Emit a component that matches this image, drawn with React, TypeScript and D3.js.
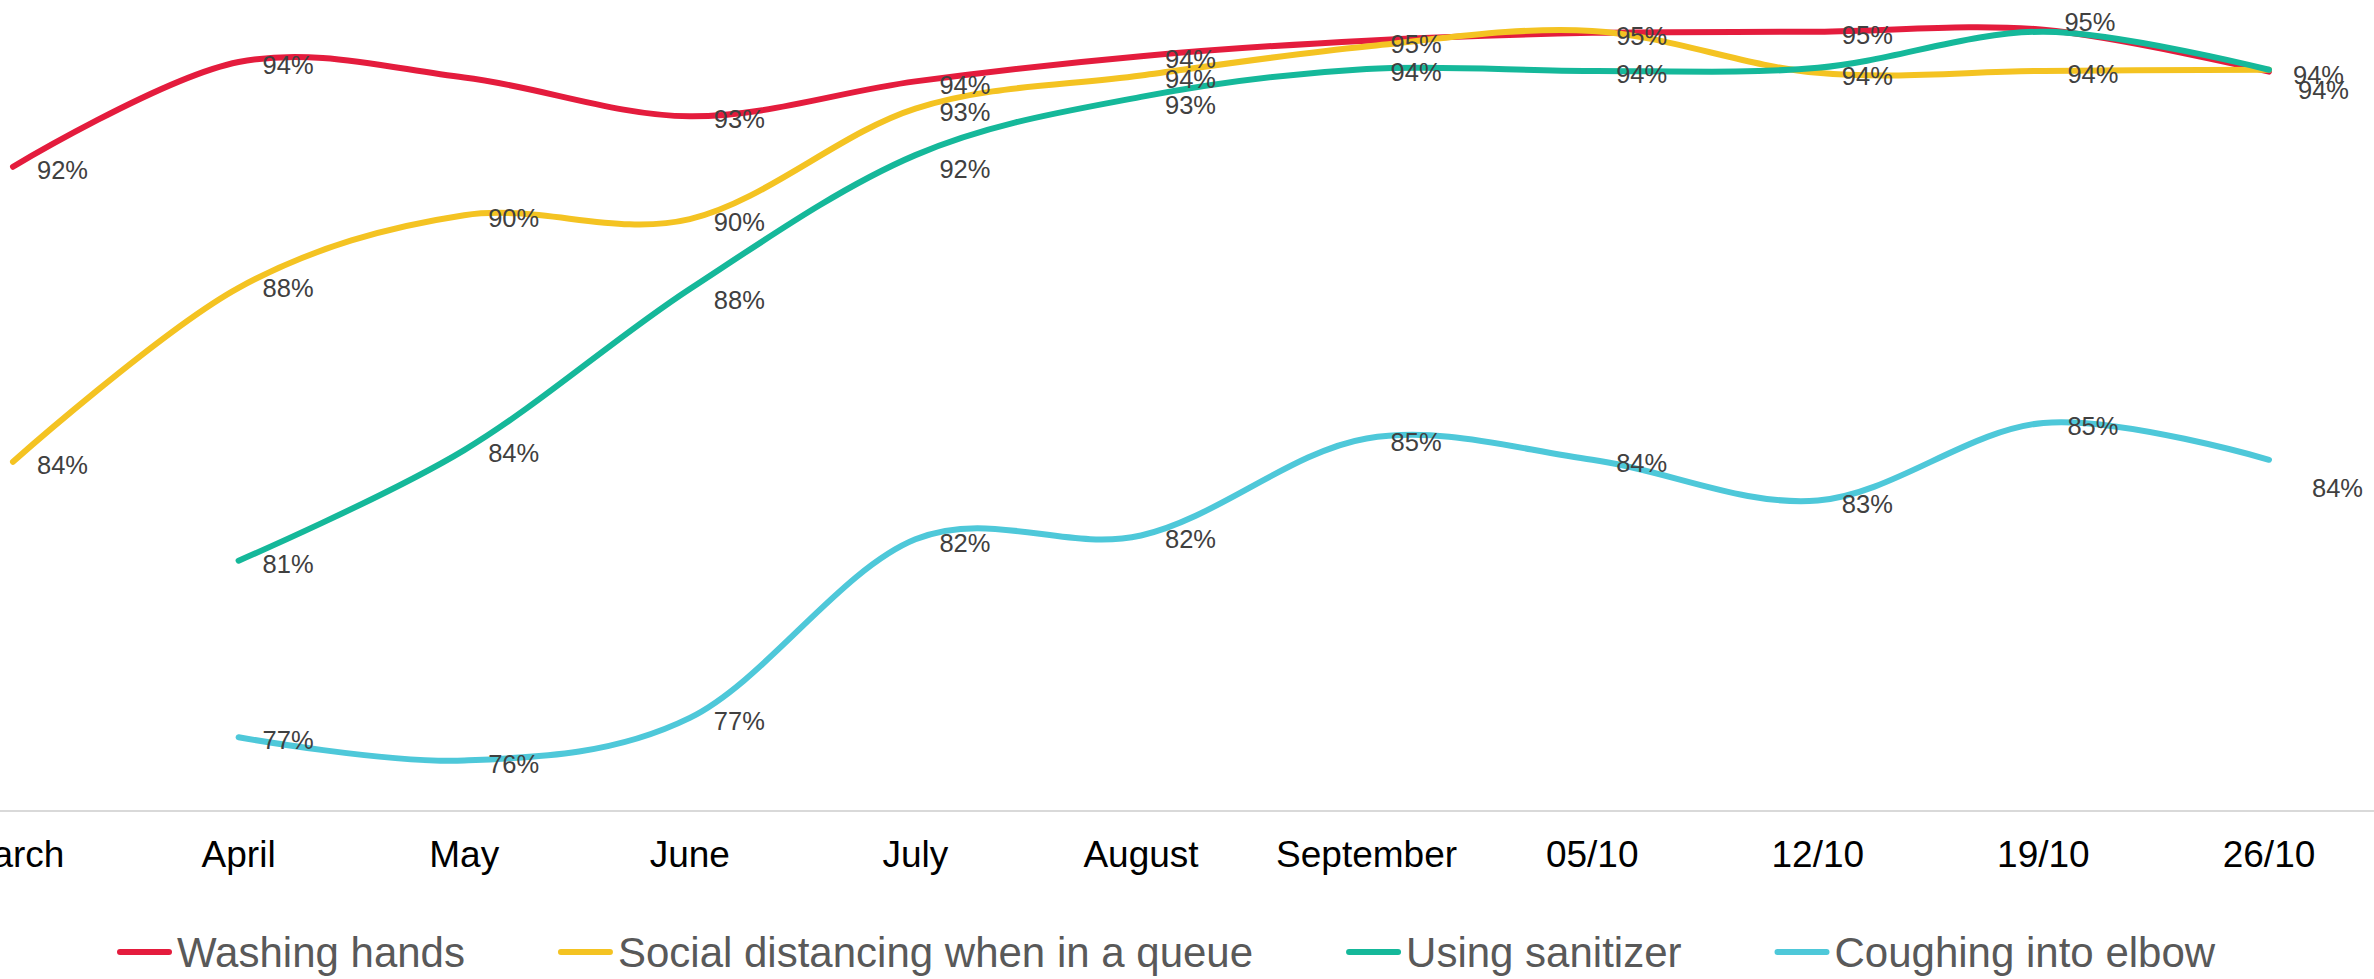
import React, { useEffect, useRef } from "react";
import * as d3 from "d3";

const categories = ["March", "April", "May", "June", "July", "August", "September", "05/10", "12/10", "19/10", "26/10"];
const washingHands = [91.6, 94.3, 93.9, 92.9, 93.8, 94.45, 94.85, 95.05, 95.08, 95.13, 94.05];
const socialDistancing = [84.0, 88.48, 90.35, 90.25, 93.1, 93.95, 94.7, 95.1, 94.02, 94.07, 94.1];
const usingSanitizer = [null, 81.45, 84.3, 88.45, 91.9, 93.4, 94.12, 94.07, 94.15, 95.08, 94.1];
const coughingElbow = [null, 76.9, 76.3, 77.4, 82.0, 82.1, 84.6, 84.05, 83.0, 85.0, 84.05];

const seriesNames = ["Washing hands", "Social distancing when in a queue", "Using sanitizer", "Coughing into elbow"];
const seriesColors = ["#E41C3D", "#F4C322", "#15B89A", "#4EC8D9"];
const seriesValues = [washingHands, socialDistancing, usingSanitizer, coughingElbow];

// label tweaks (series index, point index) -> offsets; hidden labels
const labelTweaks: Record<string, { dx?: number; dy?: number; hide?: boolean }> = {
  "0-2": { hide: true },
  "0-9": { hide: true },
  "1-1": { dy: -3 },
  "2-3": { dy: 8 },
  "2-4": { dy: 11 },
  "2-5": { dy: 5 },
  "2-9": { dx: -3, dy: -13 },
  "1-10": { dx: 5, dy: 17 },
  "3-10": { dx: 19, dy: 25 },
};

const W = 2374;
const H = 979;

export default function App() {
  const ref = useRef<SVGSVGElement | null>(null);

  useEffect(() => {
    document.body.style.margin = "0";
    const svg = d3.select(ref.current);
    svg.selectAll("*").remove();

    const x = d3.scalePoint<string>().domain(categories).range([13, 2269]);
    const y = d3.scaleLinear().domain([75, 96]).range([811, -4]);
    const fmt = d3.format(".0%");
    const font = "'Liberation Sans', Arial, sans-serif";

    // axis line
    svg.append("line")
      .attr("x1", 0).attr("x2", W)
      .attr("y1", 811).attr("y2", 811)
      .attr("stroke", "#D9D9D9").attr("stroke-width", 2);

    // axis labels
    svg.append("g").selectAll("text").data(categories).join("text")
      .attr("x", (d) => x(d)!)
      .attr("y", 867)
      .attr("text-anchor", "middle")
      .attr("font-family", font)
      .attr("font-size", 37)
      .attr("fill", "#000")
      .text((d) => d);

    const line = d3.line<[string, number | null]>()
      .defined((d) => d[1] != null)
      .x((d) => x(d[0])!)
      .y((d) => y(d[1] as number))
      .curve(d3.curveCardinal.tension(0));

    seriesValues.forEach((vals, si) => {
      const pts = categories.map((c, i) => [c, vals[i]] as [string, number | null]);
      svg.append("path")
        .attr("d", line(pts.filter((p) => p[1] != null))!)
        .attr("fill", "none")
        .attr("stroke", seriesColors[si])
        .attr("stroke-width", 6)
        .attr("stroke-linecap", "round")
        .attr("stroke-linejoin", "round");
    });

    // data labels
    const drawn: { x: number; y: number; t: string }[] = [];
    const lg = svg.append("g");
    seriesValues.forEach((vals, si) => {
      vals.forEach((v, i) => {
        if (v == null) return;
        const tw = labelTweaks[`${si}-${i}`] || {};
        if (tw.hide) return;
        const t = fmt(v / 100);
        const lx = x(categories[i])! + 24 + (tw.dx ?? 0);
        const ly = y(v) + 3 + (tw.dy ?? 0);
        if (drawn.some((d) => d.t === t && Math.abs(d.x - lx) < 8 && Math.abs(d.y - ly) < 8)) return;
        drawn.push({ x: lx, y: ly, t });
        lg.append("text")
          .attr("x", lx)
          .attr("y", ly)
          .attr("dy", "0.36em")
          .attr("font-family", font)
          .attr("font-size", 25.5)
          .attr("fill", "#404040")
          .text(t);
      });
    });

    // legend
    const leg = svg.append("g");
    let cx = 117;
    const gap = 93;
    seriesNames.forEach((name, si) => {
      leg.append("line")
        .attr("x1", cx + 3).attr("x2", cx + 52)
        .attr("y1", 952).attr("y2", 952)
        .attr("stroke", seriesColors[si])
        .attr("stroke-width", 6)
        .attr("stroke-linecap", "round");
      const txt = leg.append("text")
        .attr("x", cx + 60)
        .attr("y", 967)
        .attr("font-family", font)
        .attr("font-size", 42)
        .attr("fill", "#595959")
        .text(name);
      const tl = (txt.node() as SVGTextElement).getComputedTextLength();
      cx = cx + 60 + tl + gap;
    });
  }, []);

  return <svg ref={ref} width={W} height={H} style={{ display: "block", background: "#fff" }} />;
}
